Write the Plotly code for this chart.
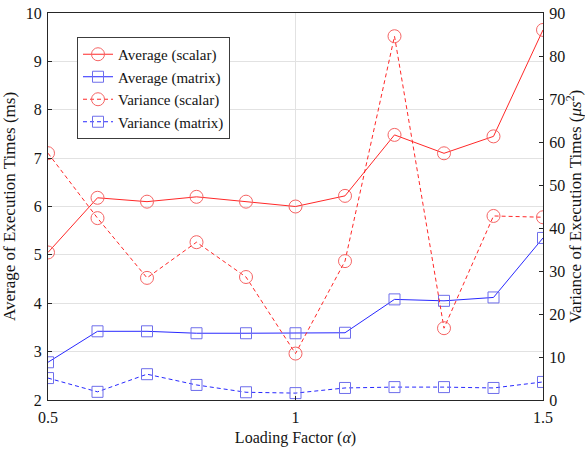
import plotly.graph_objects as go

# Loading factor values
alpha = [0.5, 0.6, 0.7, 0.8, 0.9, 1.0, 1.1, 1.2, 1.3, 1.4, 1.5]

# Average execution times (ms)
avg_scalar = [5.05, 6.18, 6.10, 6.20, 6.10, 6.00, 6.22, 7.48, 7.10, 7.45, 9.65]
avg_matrix = [2.78, 3.42, 3.42, 3.38, 3.38, 3.38, 3.39, 4.08, 4.05, 4.12, 5.35]

# Variance of execution times (us^2)
var_scalar = [57.4, 42.3, 28.4, 36.7, 28.6, 10.8, 32.3, 84.6, 16.7, 42.8, 42.5]
var_matrix = [5.1, 1.9, 6.0, 3.5, 1.8, 1.6, 2.8, 3.0, 3.0, 2.8, 4.2]

FONT = "Liberation Serif"
RED = "rgb(255,40,40)"
RED_M = "rgb(245,100,100)"
BLUE = "rgb(40,40,255)"
BLUE_M = "rgb(110,110,235)"

fig = go.Figure()

fig.add_trace(go.Scatter(
    x=alpha, y=avg_scalar, name="Average (scalar)", mode="lines+markers",
    line=dict(color=RED, width=1),
    marker=dict(symbol="circle-open", size=13, color=RED_M, line=dict(width=1)),
))
fig.add_trace(go.Scatter(
    x=alpha, y=avg_matrix, name="Average (matrix)", mode="lines+markers",
    line=dict(color=BLUE, width=1),
    marker=dict(symbol="square-open", size=11, color=BLUE_M, line=dict(width=1)),
))
fig.add_trace(go.Scatter(
    x=alpha, y=var_scalar, name="Variance (scalar)", mode="lines+markers",
    yaxis="y2",
    line=dict(color=RED, width=1, dash="4px,3px"),
    marker=dict(symbol="circle-open", size=13, color=RED_M, line=dict(width=1)),
))
fig.add_trace(go.Scatter(
    x=alpha, y=var_matrix, name="Variance (matrix)", mode="lines+markers",
    yaxis="y2",
    line=dict(color=BLUE, width=1, dash="4px,3px"),
    marker=dict(symbol="square-open", size=11, color=BLUE_M, line=dict(width=1)),
))

axis_common = dict(
    showline=True, linecolor="rgb(38,38,38)", linewidth=1,
    ticks="inside", ticklen=4, tickcolor="rgb(38,38,38)",
    tickfont=dict(family=FONT, size=16, color="rgb(20,20,20)"),
    zeroline=False, automargin=False,
)

fig.update_layout(
    width=585, height=449,
    margin=dict(l=48, r=42, t=13, b=49),
    paper_bgcolor="white", plot_bgcolor="white",
    font=dict(family=FONT, size=16, color="rgb(20,20,20)"),
    showlegend=True,
    legend=dict(
        x=0.0586, y=0.938, xanchor="left", yanchor="top",
        bgcolor="white", bordercolor="rgb(60,60,60)", borderwidth=1,
        font=dict(family=FONT, size=15),
        tracegroupgap=0, itemwidth=30,
    ),
    xaxis=dict(
        range=[0.5, 1.5], tickvals=[0.5, 1, 1.5], ticktext=["0.5", "1", "1.5"],
        showgrid=True, gridcolor="rgb(226,226,226)", gridwidth=1,
        mirror=True, ticklabelstandoff=3,
        title=dict(text="Loading Factor (<i>α</i>)", font=dict(family=FONT, size=16), standoff=6),
        **axis_common,
    ),
    yaxis=dict(
        range=[2, 10], dtick=1,
        showgrid=True, gridcolor="rgb(226,226,226)", gridwidth=1,
        ticklabelstandoff=2,
        title=dict(text="Average of Execution Times (ms)", font=dict(family=FONT, size=17), standoff=8),
        **axis_common,
    ),
    yaxis2=dict(
        range=[0, 90], dtick=10, overlaying="y", side="right",
        showgrid=False, ticklabelstandoff=2,
        title=dict(text="Variance of Execution Times (<i>μs</i><sup>2</sup>)", font=dict(family=FONT, size=17), standoff=6),
        **axis_common,
    ),
)

fig.write_html("out.html")
